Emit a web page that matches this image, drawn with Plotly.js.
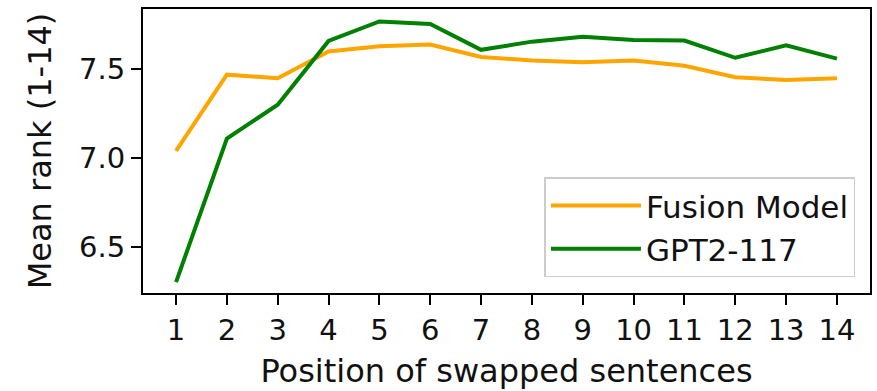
<!DOCTYPE html>
<html>
<head>
<meta charset="utf-8">
<script src="https://cdn.plot.ly/plotly-3.0.1.min.js"></script>
<style>html,body{margin:0;padding:0;background:#fff;}#chart{width:877px;height:391px;}</style>
</head>
<body>
<div id="chart"></div>
<script>
const positions = [1,2,3,4,5,6,7,8,9,10,11,12,13,14];
const tickLabels = ["1","2","3","4","5","6","7","8","9","10","11","12","13","14"];
const fusionModel = [7.04,7.47,7.45,7.60,7.63,7.64,7.57,7.55,7.54,7.55,7.52,7.455,7.44,7.45];
const gpt2_117 = [6.30,7.11,7.30,7.66,7.77,7.755,7.61,7.656,7.684,7.665,7.662,7.565,7.635,7.56];
const seriesNames = ["Fusion Model","GPT2-117"];

const font = "DejaVu Sans, sans-serif";
const traces = [
  {x: positions, y: fusionModel, name: seriesNames[0], type: "scatter", mode: "lines",
   line: {color: "#ffa500", width: 4}},
  {x: positions, y: gpt2_117, name: seriesNames[1], type: "scatter", mode: "lines",
   line: {color: "#008000", width: 4}}
];
const layout = {
  width: 877, height: 391,
  margin: {l: 143, r: 7, t: 9, b: 98},
  paper_bgcolor: "#fff", plot_bgcolor: "#fff",
  font: {family: font, size: 29, color: "#111"},
  showlegend: true,
  legend: {x: 0.98, y: 0.055, xanchor: "right", yanchor: "bottom",
           bgcolor: "rgba(255,255,255,0.8)", bordercolor: "#cccccc", borderwidth: 1.5,
           font: {family: font, size: 31, color: "#111"}, itemwidth: 90, tracegroupgap: 0},
  xaxis: {range: [0.35, 14.65], tickmode: "array", tickvals: positions, ticktext: tickLabels,
          showgrid: false, zeroline: false, showline: true, mirror: true, linecolor: "#000", linewidth: 2,
          ticks: "outside", ticklen: 10, tickwidth: 2, tickcolor: "#000",
          tickfont: {family: font, size: 29, color: "#111"},
          title: {text: "Position of swapped sentences", font: {family: font, size: 32, color: "#111"}, standoff: 14}},
  yaxis: {range: [6.239, 7.84], tickmode: "array", tickvals: [6.5,7.0,7.5], ticktext: ["6.5","7.0","7.5"],
          showgrid: false, zeroline: false, showline: true, mirror: true, linecolor: "#000", linewidth: 2,
          ticks: "outside", ticklen: 10, tickwidth: 2, tickcolor: "#000",
          tickfont: {family: font, size: 29, color: "#111"},
          title: {text: "Mean rank (1-14)", font: {family: font, size: 32, color: "#111"}, standoff: 18}}
};
Plotly.newPlot("chart", traces, layout, {staticPlot: true, displayModeBar: false});
</script>
</body>
</html>
